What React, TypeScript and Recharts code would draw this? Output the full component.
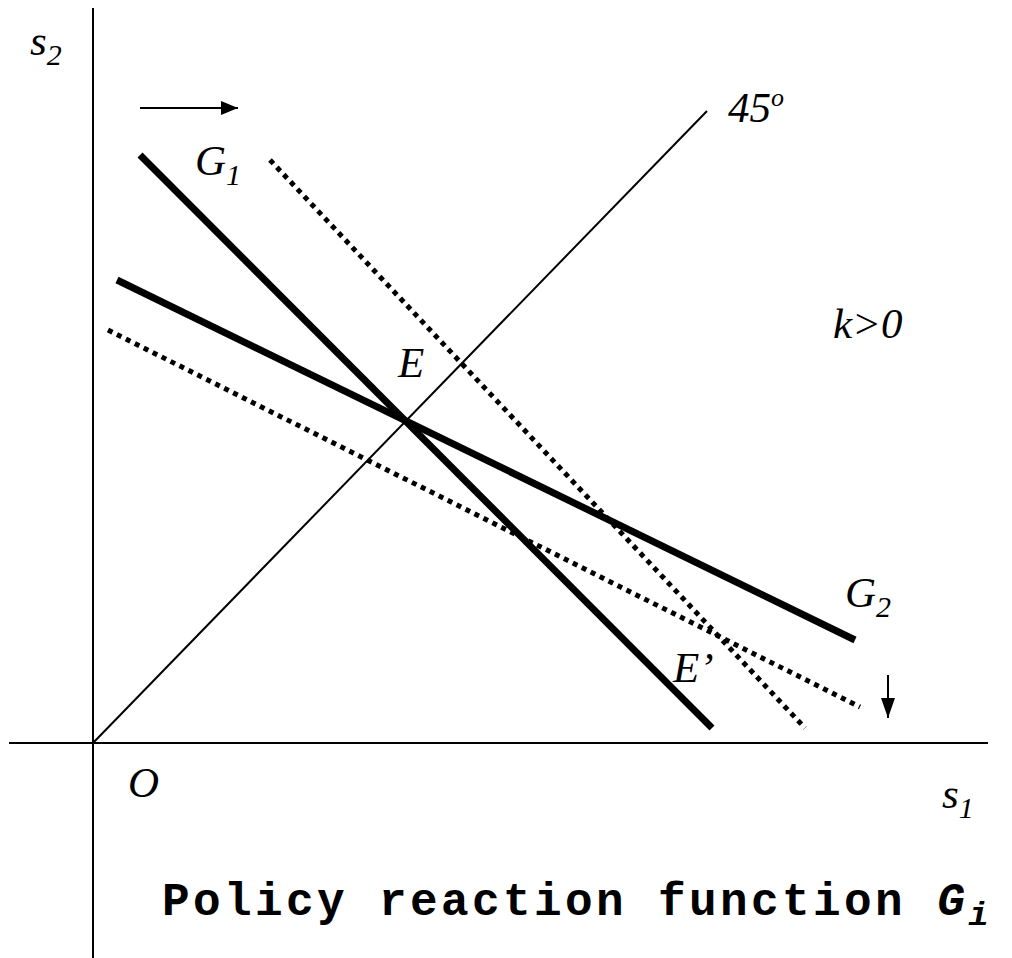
import React from "react";
import { ComposedChart, Line, ReferenceLine, Scatter, XAxis, YAxis } from "recharts";

// reaction functions (in s1 / s2 units, origin at O)
const g1 = [
  { x: 47, y: 588 },
  { x: 619, y: 15 },
];
const g2 = [
  { x: 24, y: 463 },
  { x: 762, y: 103 },
];
const g1Shifted = [
  { x: 177, y: 583 },
  { x: 712, y: 15 },
];
const g2Shifted = [
  { x: 15, y: 413 },
  { x: 767, y: 36 },
];
const line45 = [
  { x: 0, y: 0 },
  { x: 614, y: 632 },
];
const arrowRight = [
  { x: 47, y: 635 },
  { x: 145, y: 635 },
];
const arrowDown = [
  { x: 795, y: 68 },
  { x: 795, y: 25 },
];

// text labels: main, subscript, superscript
const labels = [
  { x: -63, y: 688, main: "s", sub: "2", sup: "" },
  { x: 102, y: 568, main: "G", sub: "1", sup: "" },
  { x: 635, y: 621, main: "45", sub: "", sup: "o" },
  { x: 740, y: 405, main: "k>0", sub: "", sup: "" },
  { x: 305, y: 366, main: "E", sub: "", sup: "" },
  { x: 752, y: 136, main: "G", sub: "2", sup: "" },
  { x: 580, y: 61, main: "E’", sub: "", sup: "" },
  { x: 35, y: -54, main: "O", sub: "", sup: "" },
  { x: 849, y: -65, main: "s", sub: "1", sup: "" },
];

const title = [{ x: 69, y: -172, main: "Policy reaction function ", sub: "i", em: "G" }];

const LabelShape = (props: any) => {
  const { cx, cy, payload } = props;
  return (
    <text
      x={cx}
      y={cy}
      fontFamily="'Liberation Serif', serif"
      fontStyle="italic"
      fontSize={43}
      fill="#000"
    >
      {payload.main}
      {payload.sub && (
        <tspan fontSize={30} dy={10}>
          {payload.sub}
        </tspan>
      )}
      {payload.sup && (
        <tspan fontSize={26} dy={-16}>
          {payload.sup}
        </tspan>
      )}
    </text>
  );
};

const TitleShape = (props: any) => {
  const { cx, cy, payload } = props;
  return (
    <text
      x={cx}
      y={cy}
      fontFamily="'Liberation Mono', monospace"
      fontWeight="bold"
      fontSize={46}
      letterSpacing={3.4}
      fill="#000"
    >
      {payload.main}
      <tspan fontStyle="italic">{payload.em}</tspan>
      <tspan fontStyle="italic" fontSize={34} dy={10} letterSpacing={0}>
        {payload.sub}
      </tspan>
    </text>
  );
};

const headRight = (props: any) => {
  const { cx, cy, index } = props;
  if (index !== 1) return <g key={index} />;
  return <path key={index} d={`M${cx},${cy} L${cx - 17},${cy - 7} L${cx - 17},${cy + 7} Z`} fill="#000" />;
};

const headDown = (props: any) => {
  const { cx, cy, index } = props;
  if (index !== 1) return <g key={index} />;
  return <path key={index} d={`M${cx},${cy} L${cx - 7},${cy - 20} L${cx + 7},${cy - 20} Z`} fill="#000" />;
};

export default function App() {
  return (
    <div style={{ position: "absolute", left: 0, top: 0, background: "#fff" }}>
      <ComposedChart width={1012} height={958} margin={{ top: 0, right: 0, bottom: 0, left: 0 }}>
        <XAxis type="number" dataKey="x" domain={[-93, 919]} allowDataOverflow hide />
        <YAxis type="number" dataKey="y" domain={[-215, 743]} allowDataOverflow hide />
        <ReferenceLine
          segment={[
            { x: 0, y: -215 },
            { x: 0, y: 735 },
          ]}
          stroke="#000"
          strokeWidth={2}
        />
        <ReferenceLine
          segment={[
            { x: -84, y: 0 },
            { x: 895, y: 0 },
          ]}
          stroke="#000"
          strokeWidth={2}
        />
        <Line data={line45} dataKey="y" type="linear" stroke="#000" strokeWidth={2} dot={false} isAnimationActive={false} />
        <Line data={g1Shifted} dataKey="y" type="linear" stroke="#000" strokeWidth={5} strokeDasharray="5 5" dot={false} isAnimationActive={false} />
        <Line data={g2Shifted} dataKey="y" type="linear" stroke="#000" strokeWidth={5} strokeDasharray="5 5" dot={false} isAnimationActive={false} />
        <Line data={g1} dataKey="y" type="linear" stroke="#000" strokeWidth={7} dot={false} isAnimationActive={false} />
        <Line data={g2} dataKey="y" type="linear" stroke="#000" strokeWidth={7} dot={false} isAnimationActive={false} />
        <Line data={arrowRight} dataKey="y" type="linear" stroke="#000" strokeWidth={2} dot={headRight} isAnimationActive={false} />
        <Line data={arrowDown} dataKey="y" type="linear" stroke="#000" strokeWidth={2} dot={headDown} isAnimationActive={false} />
        <Scatter data={labels} dataKey="y" shape={LabelShape} isAnimationActive={false} />
        <Scatter data={title} dataKey="y" shape={TitleShape} isAnimationActive={false} />
      </ComposedChart>
    </div>
  );
}
